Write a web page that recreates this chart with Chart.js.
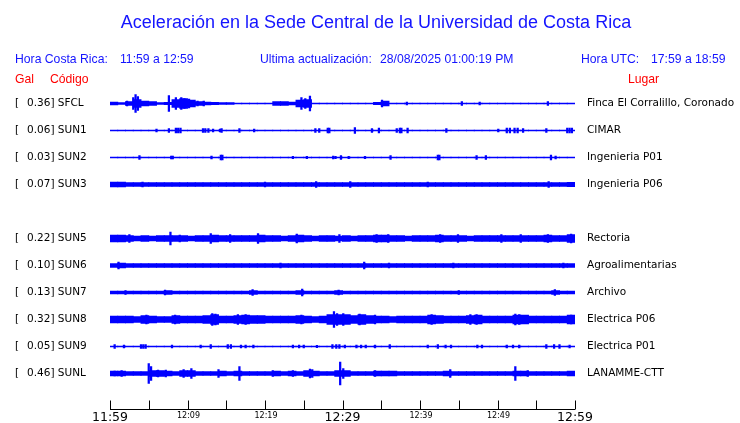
<!DOCTYPE html>
<html>
<head>
<meta charset="utf-8">
<script src="https://cdn.jsdelivr.net/npm/chart.js@4.4.0/dist/chart.umd.min.js"></script>
<style>
  html, body { margin: 0; padding: 0; background: #fff; }
  #wrap { width: 740px; height: 423px; }
</style>
</head>
<body>
<div id="wrap"><canvas id="sismo" width="740" height="423"></canvas></div>
<script>
// Acceleration traces, UCR main campus - one hour window

const titleText = 'Aceleración en la Sede Central de la Universidad de Costa Rica';
const localWindow = '11:59 a 12:59';
const utcWindow = '17:59 a 18:59';
const lastUpdate = '28/08/2025 01:00:19 PM';

// stations (row 4 is empty: SUN4 not reporting)
const codes = ['SFCL', 'SUN1', 'SUN2', 'SUN3', 'SUN5', 'SUN6', 'SUN7', 'SUN8', 'SUN9', 'SUNL'];
const peakGal = ['0.36', '0.06', '0.03', '0.07', '0.22', '0.10', '0.13', '0.32', '0.05', '0.46'];
const places = ['Finca El Corralillo, Coronado', 'CIMAR', 'Ingenieria P01', 'Ingenieria P06', 'Rectoria',
                'Agroalimentarias', 'Archivo', 'Electrica P06', 'Electrica P01', 'LANAMME-CTT'];
const rows = [0, 1, 2, 3, 5, 6, 7, 8, 9, 10];

// axis: minutes since 11:59
const tickMinutes = [0, 5, 10, 15, 20, 25, 30, 35, 40, 45, 50, 55, 60];
const labelMinutes = [0, 10, 20, 30, 40, 50, 60];
const timeLabels = ['11:59', '12:09', '12:19', '12:29', '12:39', '12:49', '12:59'];
const bigLabel = [true, false, false, true, false, false, true];

// envelope per minute (half amplitude, display units)
const bandSFCL = [1.5, 1, 2, 4, 2.5, 2, 1, 1.2, 4, 5, 3.5, 2, 1.5, 1.2, 1, 1,
                  0.5, 0.5, 0.5, 0.5, 0.5, 2, 2, 1.5, 3.5, 4,
                  0.5, 0.5, 0.5, 0.5, 0.5, 0.5, 0.5, 0.5, 1.2, 2.5,
                  0.5, 0.5, 0.5, 0.5, 0.5, 0.5, 0.5, 0.5, 0.5, 0.5, 0.5, 0.5,
                  0.5, 0.5, 0.5, 0.5, 0.5, 0.5, 0.5, 0.5, 0.5, 0.5, 0.5, 0.5];
const bandSUN1 = [0.5, 0.5, 0.5, 0.5, 0.5, 0.5, 0.5, 0.5, 0.5, 0.5, 0.5, 0.5, 0.5, 0.5, 0.5,
                  0.5, 0.5, 0.5, 0.5, 0.5, 0.5, 0.5, 0.5, 0.5, 0.5, 0.5, 0.5, 0.5, 0.5, 0.5,
                  0.5, 0.5, 0.5, 0.5, 0.5, 0.5, 0.5, 0.5, 0.5, 0.5, 0.5, 0.5, 0.5, 0.5, 0.5,
                  0.5, 0.5, 0.5, 0.5, 0.5, 0.5, 0.5, 0.5, 0.5, 0.5, 0.5, 0.5, 0.5, 0.5, 0.5];
const bandSUN2 = [0.5, 0.5, 0.5, 0.5, 0.5, 0.5, 0.5, 0.5, 0.5, 0.5, 0.5, 0.5, 0.5, 0.5, 0.5,
                  0.5, 0.5, 0.5, 0.5, 0.5, 0.5, 0.5, 0.5, 0.5, 0.5, 0.5, 0.5, 0.5, 0.5, 0.5,
                  0.5, 0.5, 0.5, 0.5, 0.5, 0.5, 0.5, 0.5, 0.5, 0.5, 0.5, 0.5, 0.5, 0.5, 0.5,
                  0.5, 0.5, 0.5, 0.5, 0.5, 0.5, 0.5, 0.5, 0.5, 0.5, 0.5, 0.5, 0.5, 0.5, 0.5];
const bandSUN3 = [2.5, 2.5, 2, 2, 2, 2, 2, 2, 2, 2, 2, 2, 2, 2, 2,
                  2, 2, 2, 2, 2, 2, 2, 2, 2, 2, 2, 2, 2, 2, 2,
                  2, 2, 2, 2, 2, 2, 2, 2, 2, 2, 2, 2, 2, 2, 2,
                  2, 2, 2, 2, 2, 2, 2, 2, 2, 2, 2, 2, 2, 2, 2.2];
const bandSUN5 = [3.5, 3.5, 3, 2.5, 3, 2.5, 3, 3, 3, 3, 2.5, 3, 3, 3.5, 3,
                  3, 3, 3, 3, 3.5, 3, 3, 2.5, 3, 3.5, 3, 2.5, 3, 3, 2.5,
                  3, 2.5, 3, 3, 3.5, 3.5, 3, 3, 2.5, 3, 3, 3, 3.5, 3, 3,
                  3, 2.5, 3, 3, 3, 3, 3, 3, 3, 3, 3, 3.5, 3, 3, 4];
const bandSUN6 = [2, 2.5, 1.8, 1.8, 1.8, 1.8, 1.8, 1.8, 1.8, 1.8, 1.8, 1.8, 1.8, 1.8, 1.8,
                  1.8, 1.8, 1.8, 1.8, 1.8, 1.8, 1.8, 2, 1.8, 1.8, 1.8, 1.8, 1.8, 1.8, 1.8,
                  1.8, 1.8, 2, 2, 1.8, 1.8, 2, 1.8, 1.8, 1.8, 1.8, 1.8, 1.8, 1.8, 2,
                  1.8, 1.8, 1.8, 1.8, 1.8, 1.8, 1.8, 1.8, 1.8, 1.8, 1.8, 1.8, 1.8, 2, 2];
const bandSUN7 = [1.5, 1.5, 1.5, 1.5, 1.5, 1.5, 1.5, 1.8, 1.5, 1.5, 1.5, 1.5, 1.5, 1.5, 1.5,
                  1.5, 1.5, 1.5, 1.8, 1.5, 1.5, 1.5, 1.5, 1.5, 1.8, 1.5, 1.5, 1.5, 1.5, 1.8,
                  1.5, 1.5, 1.5, 1.5, 1.5, 1.5, 1.5, 1.5, 1.5, 1.5, 1.5, 1.5, 1.5, 1.5, 1.5,
                  1.5, 1.5, 1.5, 1.5, 1.5, 1.5, 1.5, 1.5, 1.5, 1.5, 1.5, 1.5, 1.8, 1.5, 1.5];
const bandSUN8 = [3.5, 3.5, 3.5, 3, 4, 3.5, 3, 3, 4, 3.5, 3.5, 3.5, 4, 5, 3.5,
                  3.5, 4, 4.5, 4, 4, 3.5, 3.5, 3.5, 3.5, 4, 3.5, 3, 3.5, 5, 5,
                  5, 4, 5, 4, 3.5, 3.5, 3, 3.5, 3.5, 3.5, 3.5, 4.5, 4, 3.5, 3.5,
                  3.5, 4, 4.5, 3.5, 3.5, 3.5, 3.5, 4.5, 4.5, 3.5, 3.5, 3.5, 3.5, 3.5, 4.5];
const bandSUN9 = [0.5, 0.5, 0.5, 0.5, 0.5, 0.5, 0.5, 0.5, 0.5, 0.5, 0.5, 0.5, 0.5, 0.5, 0.5,
                  0.5, 0.5, 0.5, 0.5, 0.5, 0.5, 0.5, 0.5, 0.5, 0.5, 0.5, 0.5, 0.5, 0.5, 0.5,
                  0.5, 0.5, 0.5, 0.5, 0.5, 0.5, 0.5, 0.5, 0.5, 0.5, 0.5, 0.5, 0.5, 0.5, 0.5,
                  0.5, 0.5, 0.5, 0.5, 0.5, 0.5, 0.5, 0.5, 0.5, 0.5, 0.5, 0.5, 0.5, 0.5, 0.5];
const bandSUNL = [2.5, 2.5, 2, 2, 2, 3, 3, 2.5, 2, 3, 3, 2, 2, 2, 2.5,
                  2, 2.5, 2, 2, 2, 2, 2.5, 2, 2.5, 2, 3, 2.5, 2, 2, 3,
                  3, 2, 2, 2, 2.5, 2.5, 2.5, 2, 2, 2, 2, 2, 2, 2.5, 2,
                  2, 2, 2, 2, 2, 2, 2, 2.5, 2.5, 2, 2, 2, 2, 2, 2.5];

// isolated peaks [minute, half amplitude]
const spikesSFCL = [[2.2, 2.5], [3.0, 6], [3.3, 9], [3.6, 7], [7.6, 8], [8.5, 6], [9.2, 6], [9.6, 5],
                    [10.2, 4.5], [11.3, 2.5], [12.1, 2.5], [24.7, 6], [25.2, 5], [25.8, 7.5], [35.1, 3.5],
                    [38.3, 1.5], [45.4, 2], [47.7, 1.5], [56.5, 2]];
const spikesSUN1 = [[6.0, 1.5], [7.6, 2], [8.5, 2.5], [8.8, 2.5], [9.1, 2.5], [12.0, 2], [12.3, 2],
                    [12.7, 2], [13.3, 1.5], [14.2, 1.5], [14.4, 2], [16.7, 2], [18.6, 1.5], [26.5, 2],
                    [27.0, 2], [28.1, 2.5], [28.3, 2.5], [31.6, 3], [33.8, 2], [34.7, 2.5], [37.0, 2],
                    [37.4, 2.5], [37.6, 2.5], [38.4, 2.5], [43.4, 2], [50.1, 1.5], [51.2, 2.5],
                    [51.6, 2.5], [52.2, 2.5], [52.6, 2.5], [53.3, 2], [56.3, 2], [59.0, 2.5],
                    [59.3, 2.5], [59.6, 2.5]];
const spikesSUN2 = [[3.8, 2], [7.9, 1.5], [8.1, 1.5], [13.1, 1.5], [14.3, 2.5], [14.5, 2.5], [23.6, 1.2],
                    [25.4, 1.2], [28.8, 1.5], [29.1, 1.2], [29.8, 2], [30.8, 1.2], [32.9, 1.2], [36.2, 2],
                    [42.3, 2.5], [42.5, 2.5], [47.3, 2], [48.5, 2], [56.9, 2.5], [57.5, 1.5]];
const spikesSUN3 = [[4.2, 2.5], [20.0, 2.5], [26.6, 3], [31.0, 3], [41.0, 2.5], [56.6, 3]];
const spikesSUN5 = [[2.5, 4], [7.8, 6.5], [9.0, 3.5], [13.0, 5], [15.5, 4], [19.1, 5], [24.1, 4.5],
                    [29.6, 4], [34.4, 4], [35.9, 4], [42.6, 4], [44.9, 4], [50.5, 4], [53.0, 4],
                    [56.5, 4], [59.5, 4.5]];
const spikesSUN6 = [[1.1, 3.5], [22.0, 2.5], [32.8, 3.5], [36.0, 2.5], [44.3, 2.5], [58.5, 2.5]];
const spikesSUN7 = [[2.0, 2], [7.1, 2.5], [18.4, 3], [24.8, 3.5], [29.5, 2.5], [45.0, 2], [57.4, 3]];
const spikesSUN8 = [[4.7, 4.5], [8.4, 4.5], [13.2, 6], [13.6, 5.5], [16.5, 5], [17.5, 5], [24.7, 4.5],
                    [28.9, 8], [29.3, 6], [30.1, 6], [32.2, 5.5], [34.2, 4.5], [41.5, 5], [46.5, 5],
                    [47.3, 5], [52.3, 5.5], [52.8, 5], [59.5, 4.5]];
const spikesSUN9 = [[0.6, 2], [1.8, 1.5], [4.0, 2], [4.3, 2], [4.6, 2], [8.0, 1.5], [11.7, 1.5], [13.0, 2],
                    [15.2, 2], [15.6, 2], [16.9, 1.5], [17.5, 1.5], [18.5, 1.5], [23.6, 1.5], [24.4, 1.5],
                    [25.0, 1.5], [26.7, 1.2], [28.7, 2], [29.2, 2], [29.6, 2], [30.3, 1.5], [31.8, 1.5],
                    [32.4, 1.5], [33.0, 1.5], [34.2, 1.5], [36.1, 2], [41.0, 1.5], [42.3, 2], [43.3, 1.5],
                    [44.0, 1.5], [47.4, 1.5], [48.0, 1.5], [51.2, 1.5], [52.0, 1.5], [52.8, 1.5],
                    [56.3, 2], [57.3, 2], [58.0, 2], [59.3, 1.5]];
const spikesSUNL = [[0.6, 2.5], [1.5, 3], [5.0, 10], [5.3, 7], [6.2, 3.5], [7.2, 3.5], [9.5, 4], [10.5, 5],
                    [14.0, 4], [16.7, 7], [21.0, 3], [23.6, 3], [25.8, 4.5], [26.1, 4], [29.7, 11.5],
                    [30.1, 5], [34.2, 3], [43.9, 4], [52.3, 7], [53.9, 3]];

const bands = [bandSFCL, bandSUN1, bandSUN2, bandSUN3, bandSUN5, bandSUN6, bandSUN7, bandSUN8, bandSUN9, bandSUNL];
const spikes = [spikesSFCL, spikesSUN1, spikesSUN2, spikesSUN3, spikesSUN5, spikesSUN6, spikesSUN7,
                spikesSUN8, spikesSUN9, spikesSUNL];

const GAIN = 1 / 27;   // amplitude units -> row units
const TRACE = '#0000ff';
const BLUE_TEXT = '#1414ff';
const RED_TEXT = '#ff0000';

const datasets = [];
codes.forEach(function(code, i) {
    const r = rows[i];
    datasets.push({
        label: code,
        data: bands[i].map((a, m) => ({ x: m + 0.5, y: [r - a * GAIN, r + a * GAIN] })),
        backgroundColor: TRACE,
        borderWidth: 0,
        barThickness: 8,
        grouped: false
    });
    datasets.push({
        label: code + ' picos',
        data: spikes[i].map(s => ({ x: s[0], y: [r - s[1] * GAIN, r + s[1] * GAIN] })),
        backgroundColor: TRACE,
        borderWidth: 0,
        barThickness: 1.6,
        grouped: false
    });
});

// text and time axis drawn on top of the traces
const sismoText = {
    id: 'sismoText',
    afterDraw(chart) {
        const ctx = chart.ctx;
        const xs = chart.scales.x;
        const ys = chart.scales.y;
        ctx.save();

        ctx.textBaseline = 'middle';
        ctx.textAlign = 'center';
        ctx.fillStyle = BLUE_TEXT;
        ctx.font = '18px "Liberation Sans", Arial, sans-serif';
        ctx.fillText(titleText, 376, 23);

        ctx.textAlign = 'left';
        ctx.font = '12.2px "Liberation Sans", Arial, sans-serif';
        ctx.fillText('Hora Costa Rica:', 15, 60);
        ctx.fillText(localWindow, 120, 60);
        ctx.fillText('Ultima actualización:', 260, 60);
        ctx.fillText(lastUpdate, 380, 60);
        ctx.fillText('Hora UTC:', 581, 60);
        ctx.fillText(utcWindow, 651, 60);

        ctx.fillStyle = RED_TEXT;
        ctx.fillText('Gal', 15, 80);
        ctx.fillText('Código', 50, 80);
        ctx.fillText('Lugar', 628, 80);

        // station labels
        ctx.fillStyle = '#000';
        ctx.font = '10.5px "DejaVu Sans", sans-serif';
        codes.forEach(function(code, i) {
            const y = ys.getPixelForValue(rows[i]);
            ctx.fillText('[', 15, y);
            ctx.fillText(peakGal[i] + '] ' + code, 27, y);
            ctx.fillText(places[i], 587, y);
        });

        // time axis
        const yAxis = 409.5;
        ctx.strokeStyle = '#000';
        ctx.lineWidth = 1;
        ctx.beginPath();
        ctx.moveTo(xs.getPixelForValue(0), yAxis);
        ctx.lineTo(xs.getPixelForValue(60), yAxis);
        tickMinutes.forEach(function(m) {
            const x = Math.round(xs.getPixelForValue(m)) + 0.5;
            ctx.moveTo(x, yAxis);
            ctx.lineTo(x, yAxis - 9);
        });
        ctx.stroke();

        ctx.textAlign = 'center';
        ctx.textBaseline = 'alphabetic';
        labelMinutes.forEach(function(m, i) {
            const x = xs.getPixelForValue(m);
            if (bigLabel[i]) {
                ctx.font = '12.5px "DejaVu Sans", sans-serif';
                ctx.fillText(timeLabels[i], x, yAxis + 11.5);
            } else {
                ctx.font = '8px "DejaVu Sans", sans-serif';
                ctx.fillText(timeLabels[i], x + 1, yAxis + 8.5);
            }
        });
        ctx.restore();
    }
};

new Chart(document.getElementById('sismo').getContext('2d'), {
    type: 'bar',
    data: { datasets: datasets },
    options: {
        responsive: false,
        animation: false,
        events: [],
        layout: { padding: { left: 110, right: 165, top: 76.5, bottom: 13.05 } },
        plugins: {
            legend: { display: false },
            title: { display: false },
            tooltip: { enabled: false }
        },
        scales: {
            x: { type: 'linear', min: 0, max: 60, offset: false, display: false },
            y: { type: 'linear', min: -1, max: 11.35, reverse: true, display: false }
        }
    },
    plugins: [sismoText]
});
</script>
</body>
</html>
